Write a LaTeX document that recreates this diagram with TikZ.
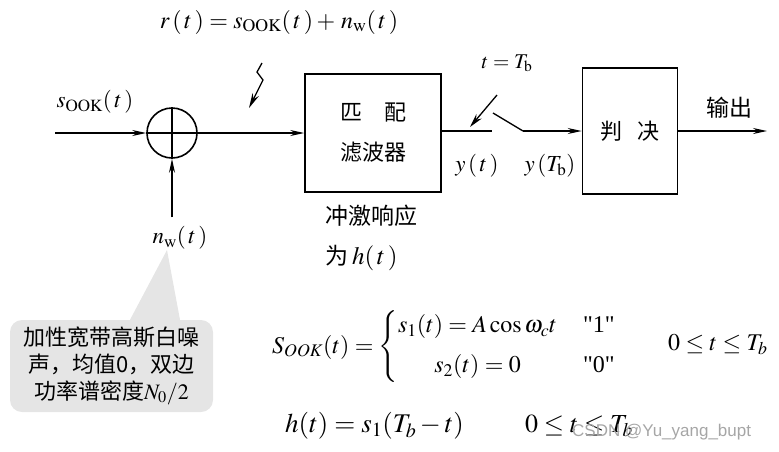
\documentclass[tikz,border=0pt]{standalone}
\usepackage{amsmath}
\usepackage{mathptmx}
\usepackage{fontspec}
\setmainfont{Liberation Serif}
\newfontfamily\plainrm{Liberation Serif}
\newfontfamily\cjk{Noto Sans CJK SC}
\newfontfamily\wmfont{Liberation Sans}
\usetikzlibrary{arrows.meta,positioning}

\begin{document}
\begin{tikzpicture}[x=1pt,y=-1pt,
  blk/.style={draw,line width=1.6pt,font=\cjk\fontsize{22}{40}\selectfont,align=center},
  wire/.style={line width=1.3pt},
  sig/.style={wire,-{Stealth[length=14pt,width=6pt]}},
  lbl/.style={inner sep=0pt,font=\fontsize{23}{26}\selectfont},
  note/.style={fill=black!10,rounded corners=12pt,inner sep=0pt,align=center,
    minimum width=203pt,minimum height=92pt,
    font=\cjk\fontsize{22}{27}\selectfont},
  eqn/.style={inner sep=0pt,anchor=west}]
\useasboundingbox (0,0) rectangle (779,451);

% --- blocks ------------------------------------------------------------
\node[circle,draw,line width=1.6pt,minimum size=50pt,inner sep=0pt] (sum) at (172,133) {};
\draw[wire] (sum.north) -- (sum.south);
\draw[wire] (sum.west) -- (sum.east);
\node[blk,minimum width=136pt,minimum height=118pt] (mf) at (373,133) {匹\hspace{1em}配\\滤波器};
\node[blk,minimum width=95pt,minimum height=126pt] (dec) at (630,131) {判\hspace{0.7em}决};

% --- signal path -------------------------------------------------------
\coordinate (in) at (55,133);
\draw[sig] (in) -- (sum.west);
\draw[sig] (sum.east) -- (sum.east -| mf.west);

\coordinate (sw1) at (492,131);
\coordinate (sw2) at (493,113);
\coordinate (sw3) at (523,131);
\draw[wire] (mf.east |- sw1) -- (sw1);
\draw[wire] (sw2) -- (sw3);
\draw[sig] (sw3) -- (sw3 -| dec.west);

\coordinate (out) at (767,131);
\draw[sig] (dec.east |- out) -- (out);

% --- noise input -------------------------------------------------------
\node[lbl] (nw) at (180,238) {$n_{\mathrm{w}}(\,t\,)$};
\draw[sig] ([yshift=9pt]nw.north -| sum.south) -- (sum.south);

% --- sampling and r(t) marks -------------------------------------------
\coordinate (ta) at (497,95);
\coordinate (tb) at (470,127);
\draw[wire,-{Stealth[length=14pt,width=7pt]}] (ta) -- (tb);
\coordinate (zz) at (262,63);
\draw[wire,-{Stealth[length=15pt,width=7pt]}] (zz) -- (257,72) -- (263,80) -- (249,108);

% --- labels ------------------------------------------------------------
\node[lbl,font=\fontsize{24}{26}\selectfont] (rt) at (279,22) {$r\,(\,t\,)=s_{\mathrm{OOK}}(\,t\,)+\,n_{\mathrm{w}}(\,t\,)$};
\node[lbl] (sook) at (95,102) {$s_{\mathrm{OOK}}(\,t\,)$};
\node[lbl,font=\fontsize{21}{24}\selectfont] (tTb) at (507,63) {$t=T_{\mathrm{b}}$};
\node[lbl] (yt) at (477,166) {$y\,(\,t\,)$};
\node[lbl] (yTb) at (550,166) {$y\,(T_{\mathrm{b}})$};
\node[lbl,font=\cjk\fontsize{23}{24}\selectfont] (outl) at (729,108) {输出};
\node[lbl,anchor=north west,align=left,font=\cjk\fontsize{23}{40}\selectfont]
  (imp) at (325,205) {冲激响应\\为\,{\fontsize{25}{40}\selectfont$h(\,t\,)$}};

% --- callout -----------------------------------------------------------
\node[note] (nt) at (111.5,366) {加性宽带高斯白噪\\声，均值0，双边\\功率谱密度$N_0/2$};
\coordinate (pl) at (130,0);
\coordinate (pr) at (180,0);
\fill[black!10] (167,250) -- (pl |- nt.north) -- (pr |- nt.north) -- cycle;

% --- formulas ----------------------------------------------------------
\node[eqn,font=\fontsize{24}{28}\selectfont] (sdef) at (272,347)
  {$S_{OOK}(t)=\left\{\begin{array}{@{}c@{\hspace{26pt}}c@{}} s_1(t)=A\cos\omega_c t & \text{\plainrm"1"}\\[12pt]
     s_2(t)=0 & \text{\plainrm"0"}\end{array}\right.$};
\node[eqn,font=\fontsize{24}{28}\selectfont] (rng1) at (668,345) {$0\le t\le T_b$};
\node[eqn,font=\fontsize{27}{30}\selectfont] (hdef) at (285,426) {$h(t)=s_1(T_b-t)$};
\node[eqn,font=\fontsize{26}{30}\selectfont] (rng2) at (525,426) {$0\le t\le T_b$};
\node[eqn,font=\wmfont\fontsize{17}{20}\selectfont,text=black!35] (wm) at (572,432) {CSDN @Yu\_yang\_bupt};
\end{tikzpicture}
\end{document}
